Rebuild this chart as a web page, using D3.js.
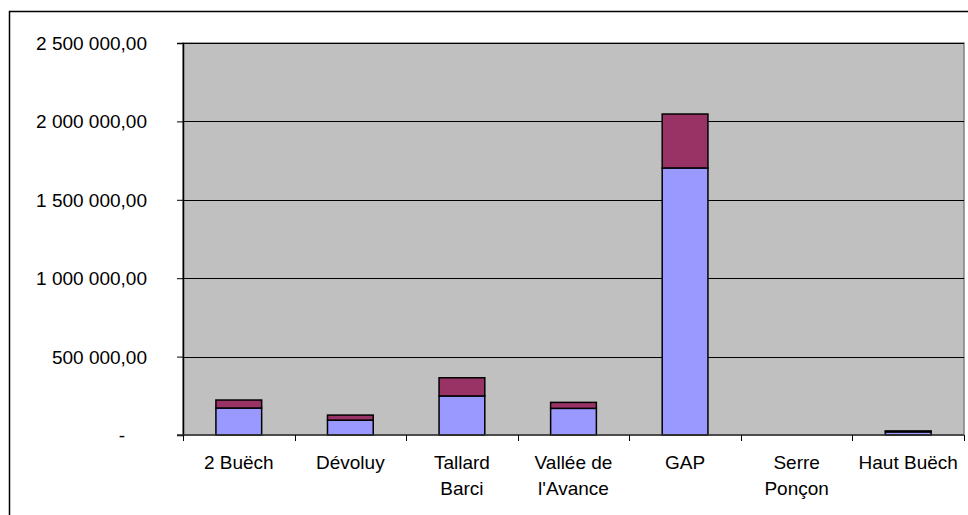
<!DOCTYPE html>
<html>
<head>
<meta charset="utf-8">
<script src="https://cdn.jsdelivr.net/npm/d3@7"></script>
<style>
  html, body { margin: 0; padding: 0; background: #fff; }
  svg { display: block; }
  text { font-family: "Liberation Sans", Arial, sans-serif; fill: #000; }
</style>
</head>
<body>
<svg id="chart" width="968" height="515"></svg>
<script>
const categories = ["2 Buëch", "Dévoluy", "Tallard Barci", "Vallée de l'Avance", "GAP", "Serre Ponçon", "Haut Buëch"];
const seriesLower = [172000, 95000, 249000, 170000, 1703000, 0, 20000];
const seriesUpper = [51000, 32000, 116000, 38000, 344000, 0, 6000];
const yTicks = [0, 500000, 1000000, 1500000, 2000000, 2500000];

const svg = d3.select("#chart");
const W = 968, H = 515;
const plot = { left: 183, right: 964, top: 43, bottom: 435 };

// outer frame
svg.append("rect").attr("x", 9.5).attr("y", 11.5).attr("width", W).attr("height", H)
  .attr("fill", "#fff").attr("stroke", "#000").attr("stroke-width", 1.5);

const x = d3.scaleBand().domain(categories).range([plot.left, plot.right])
  .paddingInner(0.59).paddingOuter(0.295);
const xCells = d3.scaleBand().domain(categories).range([plot.left, plot.right]).padding(0);
const y = d3.scaleLinear().domain([0, 2500000]).range([plot.bottom, plot.top]);

// plot area background
svg.append("rect").attr("x", plot.left).attr("y", plot.top)
  .attr("width", plot.right - plot.left).attr("height", plot.bottom - plot.top)
  .attr("fill", "#C0C0C0").attr("stroke", "#808080").attr("stroke-width", 1.5);

// gridlines
svg.append("g").selectAll("line").data(yTicks.filter(v => v > 0)).join("line")
  .attr("x1", plot.left).attr("x2", plot.right)
  .attr("y1", d => Math.round(y(d)) + 0.5).attr("y2", d => Math.round(y(d)) + 0.5)
  .attr("stroke", "#000").attr("stroke-width", 1);

// stacked bars
const stackData = categories.map((c, i) => ({ cat: c, lower: seriesLower[i], upper: seriesUpper[i] }));
const stack = d3.stack().keys(["lower", "upper"])(stackData);
const colors = { lower: "#9999FF", upper: "#993366" };
svg.append("g").selectAll("g").data(stack).join("g")
  .attr("fill", d => colors[d.key])
  .selectAll("rect").data(d => d).join("rect")
  .attr("x", d => x(d.data.cat))
  .attr("width", x.bandwidth())
  .attr("y", d => y(d[1]))
  .attr("height", d => y(d[0]) - y(d[1]))
  .attr("stroke", "#000").attr("stroke-width", 1.5);

// y axis
const fmt = v => {
  if (v === 0) return "-";
  const s = d3.format(",.2f")(v);
  return s.replace(/,/g, " ").replace(/\.(\d\d)$/, ",$1");
};
const yAxis = svg.append("g").attr("transform", `translate(${plot.left},0)`)
  .call(d3.axisLeft(y).tickValues(yTicks).tickFormat(fmt).tickSize(6).tickPadding(30));
yAxis.select(".domain").attr("stroke", "#000").attr("stroke-width", 1.5);
yAxis.selectAll(".tick line").attr("stroke", "#000");
yAxis.selectAll(".tick text").attr("font-size", 19).attr("font-family", "Liberation Sans, Arial, sans-serif")
  .attr("dy", "0.34em");
yAxis.selectAll(".tick").filter(d => d === 0).select("text").attr("x", -58);

// x axis
const xAxis = svg.append("g").attr("transform", `translate(0,${plot.bottom})`);
xAxis.append("line").attr("x1", plot.left - 6).attr("x2", plot.right)
  .attr("y1", 0).attr("y2", 0).attr("stroke", "#333").attr("stroke-width", 1.5);
const bounds = categories.map(c => xCells(c)).concat([plot.right]);
xAxis.selectAll("line.tk").data(bounds).join("line").attr("class", "tk")
  .attr("x1", d => Math.round(d) + 0.5).attr("x2", d => Math.round(d) + 0.5)
  .attr("y1", 0).attr("y2", 6).attr("stroke", "#000");

const labels = xAxis.selectAll("text.lbl").data(categories).join("text").attr("class", "lbl")
  .attr("text-anchor", "middle").attr("font-size", 19)
  .attr("x", d => xCells(d) + xCells.bandwidth() / 2).attr("y", 34);
labels.each(function(d) {
  const t = d3.select(this);
  const words = d.split(" ");
  const maxW = 104;
  const lines = [];
  let cur = [];
  words.forEach(w => {
    const test = cur.concat([w]).join(" ");
    t.text(test);
    if (this.getComputedTextLength() > maxW && cur.length) {
      lines.push(cur.join(" "));
      cur = [w];
    } else cur.push(w);
  });
  lines.push(cur.join(" "));
  t.text(null);
  lines.forEach((ln, i) => {
    t.append("tspan").attr("x", xCells(d) + xCells.bandwidth() / 2)
      .attr("dy", i === 0 ? 0 : 26).text(ln);
  });
});
</script>
</body>
</html>
